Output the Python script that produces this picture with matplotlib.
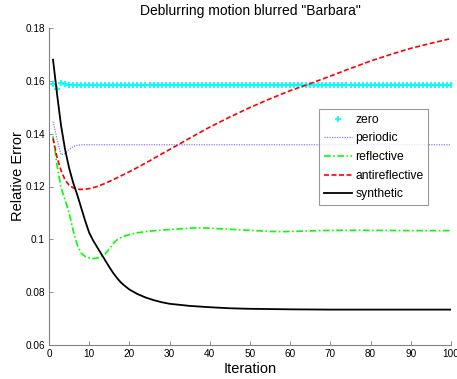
import numpy as np
import matplotlib
matplotlib.use("Agg")
import matplotlib.pyplot as plt

plt.rcParams['font.family'] = ['Liberation Sans', 'DejaVu Sans']

# ---- data ----
zero_iters = list(range(1, 101))
zero_vals = [0.1588, 0.1568, 0.1591, 0.1587] + [0.1585] * 96

periodic_iters = [1, 2, 3, 4, 5, 6, 7, 8, 10, 15, 20, 30, 40, 50, 60, 70, 80, 90, 100]
periodic_vals = [0.1446, 0.1380, 0.1320, 0.1325, 0.1340, 0.1351, 0.1356, 0.1358, 0.1358,
                 0.1358, 0.1358, 0.1358, 0.1358, 0.1358, 0.1358, 0.1358, 0.1358, 0.1358, 0.1358]

reflective_iters = [1, 2, 3, 4, 5, 6, 7, 8, 9, 10, 11, 12, 13, 14, 15, 16, 17, 18, 20, 22, 25,
                    30, 35, 37, 40, 45, 50, 55, 58, 65, 70, 80, 90, 100]
reflective_vals = [0.1390, 0.1280, 0.1195, 0.1150, 0.1100, 0.1035, 0.0980, 0.0948, 0.0935,
                   0.0930, 0.0927, 0.0929, 0.0935, 0.0945, 0.0963, 0.0985, 0.0999, 0.1008,
                   0.1018, 0.1025, 0.1031, 0.1037, 0.1042, 0.1044, 0.1042, 0.1038, 0.1034,
                   0.1030, 0.1029, 0.1032, 0.1034, 0.1034, 0.1033, 0.1033]

antireflective_iters = [1, 2, 3, 4, 5, 6, 7, 8, 9, 10, 12, 14, 16, 18, 20, 22, 25, 28, 30, 32,
                        35, 40, 45, 50, 55, 60, 64, 70, 75, 80, 85, 90, 95, 100]
antireflective_vals = [0.1382, 0.1310, 0.1260, 0.1225, 0.1205, 0.1195, 0.1190, 0.1189, 0.1190,
                       0.1192, 0.1200, 0.1212, 0.1226, 0.1241, 0.1256, 0.1272, 0.1297, 0.1323,
                       0.1340, 0.1357, 0.1383, 0.1425, 0.1463, 0.1499, 0.1532, 0.1563, 0.1584,
                       0.1618, 0.1647, 0.1675, 0.1700, 0.1723, 0.1742, 0.1760]

synthetic_iters = [1, 2, 3, 4, 5, 6, 7, 8, 9, 10, 11, 12, 13, 14, 15, 16, 17, 18, 19, 20, 22,
                   24, 26, 28, 30, 35, 40, 45, 50, 60, 70, 80, 90, 100]
synthetic_vals = [0.1680, 0.1550, 0.1430, 0.1340, 0.1270, 0.1215, 0.1170, 0.1120, 0.1070,
                  0.1025, 0.0995, 0.0970, 0.0945, 0.0920, 0.0895, 0.0872, 0.0852, 0.0835,
                  0.0822, 0.0810, 0.0793, 0.0780, 0.0770, 0.0762, 0.0756, 0.0748, 0.0743,
                  0.0739, 0.0737, 0.0735, 0.0734, 0.0734, 0.0734, 0.0734]

x_ticks = [0, 10, 20, 30, 40, 50, 60, 70, 80, 90, 100]
y_ticks = [0.06, 0.08, 0.10, 0.12, 0.14, 0.16, 0.18]
y_tick_labels = ['0.06', '0.08', '0.1', '0.12', '0.14', '0.16', '0.18']

title_text = 'Deblurring motion blurred "Barbara"'
x_label = 'Iteration'
y_label = 'Relative Error'

# ---- figure ----
W, H = 457, 379
fig = plt.figure(figsize=(W / 100, H / 100), dpi=100)
ax = fig.add_axes([49 / W, 1 - 345 / H, (451 - 49) / W, (345 - 28) / H])

ax.plot(zero_iters, zero_vals, linestyle='none', marker='+', color='#00ffff',
        markersize=5, markeredgewidth=1.3, label='zero')
ax.plot(periodic_iters, periodic_vals, linestyle=(0, (1, 1)), color='#7f7fff',
        linewidth=0.9, label='periodic')
ax.plot(reflective_iters, reflective_vals, linestyle=(0, (4, 1.5, 1, 1.5)), color='#00ff00',
        linewidth=1.2, label='reflective')
ax.plot(antireflective_iters, antireflective_vals, linestyle=(0, (3, 1.5)), color='#ff0000',
        linewidth=1.2, label='antireflective')
ax.plot(synthetic_iters, synthetic_vals, linestyle='-', color='black',
        linewidth=1.3, label='synthetic')

ax.set_xlim(0, 100)
ax.set_ylim(0.06, 0.18)
ax.set_xticks(x_ticks)
ax.set_xticklabels([str(t) for t in x_ticks])
ax.set_yticks(y_ticks)
ax.set_yticklabels(y_tick_labels)

for s in ['top', 'right']:
    ax.spines[s].set_visible(False)
for s in ['left', 'bottom']:
    ax.spines[s].set_color('#808080')
    ax.spines[s].set_linewidth(0.8)
ax.tick_params(direction='in', length=3, width=0.6, color='#808080', labelsize=7.2,
               labelcolor='black', pad=3)

ax.set_title(title_text, fontsize=10, pad=9)
ax.set_xlabel(x_label, fontsize=10.5)
ax.set_ylabel(y_label, fontsize=10.5)
ax.xaxis.set_label_coords(0.5, (345 - 362) / 317)
ax.yaxis.set_label_coords((25 - 49) / 402, (345 - 176) / 317)

leg = ax.legend(loc='upper left', bbox_to_anchor=(319 / W, 1 - 109 / H),
                bbox_transform=fig.transFigure, fontsize=8.7, frameon=True,
                fancybox=False, handlelength=2.3, handletextpad=0.3,
                labelspacing=0.55, borderpad=0.4, borderaxespad=0)
leg.get_frame().set_edgecolor('#808080')
leg.get_frame().set_linewidth(0.8)

fig.savefig('out.png', dpi=100)
